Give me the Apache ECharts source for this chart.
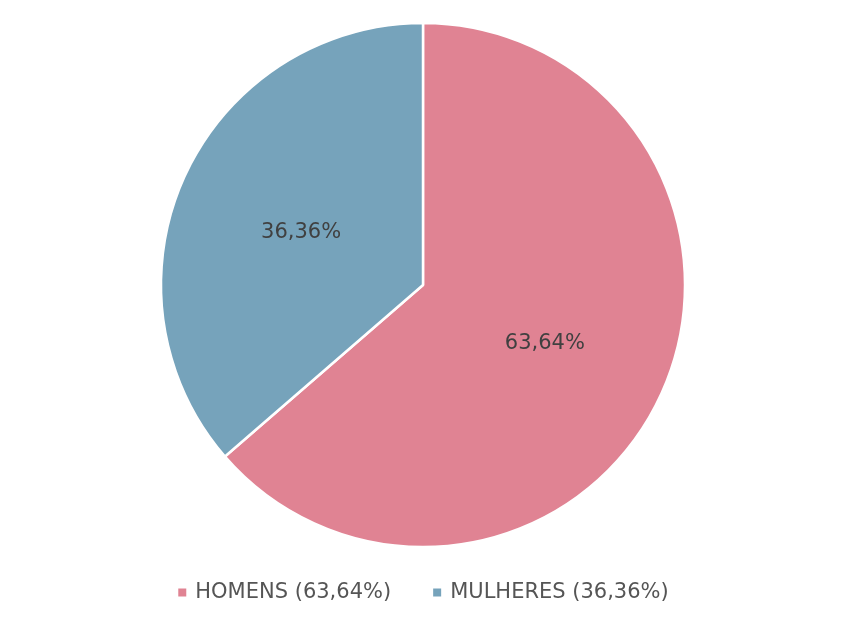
<!DOCTYPE html>
<html><head><meta charset="utf-8">
<script src="https://cdn.jsdelivr.net/npm/echarts@6/dist/echarts.min.js"></script>
<style>html,body{margin:0;padding:0;background:#fff}#c{width:845px;height:624px}</style>
</head><body><div id="c"></div>
<script>
const categories = ["HOMENS", "MULHERES"];
const values = [63.64, 36.36];
const colors = ["#E08393", "#76A3BB"];
const fmt = v => v.toFixed(2).replace('.', ',') + '%';
const chart = echarts.init(document.getElementById('c'), null, {renderer: 'canvas'});
chart.setOption({
  animation: false,
  color: colors,
  legend: {
    bottom: 16,
    left: 'center',
    icon: 'rect',
    itemWidth: 10,
    itemHeight: 10,
    itemGap: 40,
    textStyle: {fontFamily: 'DejaVu Sans', fontSize: 21, color: '#555555', padding: [0, 0, 0, 3]},
    formatter: name => name + ' (' + fmt(values[categories.indexOf(name)]) + ')'
  },
  series: [{
    type: 'pie',
    center: [423, 285],
    radius: [0, 262],
    startAngle: 90,
    clockwise: true,
    itemStyle: {borderColor: '#ffffff', borderWidth: 2.5},
    label: {
      position: 'inside',
      formatter: p => fmt(p.value),
      fontFamily: 'DejaVu Sans',
      fontSize: 21,
      color: '#404040',
      offset: [0, 3]
    },
    labelLine: {show: false},
    emphasis: {disabled: true},
    data: categories.map((c, i) => ({name: c, value: values[i]}))
  }]
});
</script></body></html>
